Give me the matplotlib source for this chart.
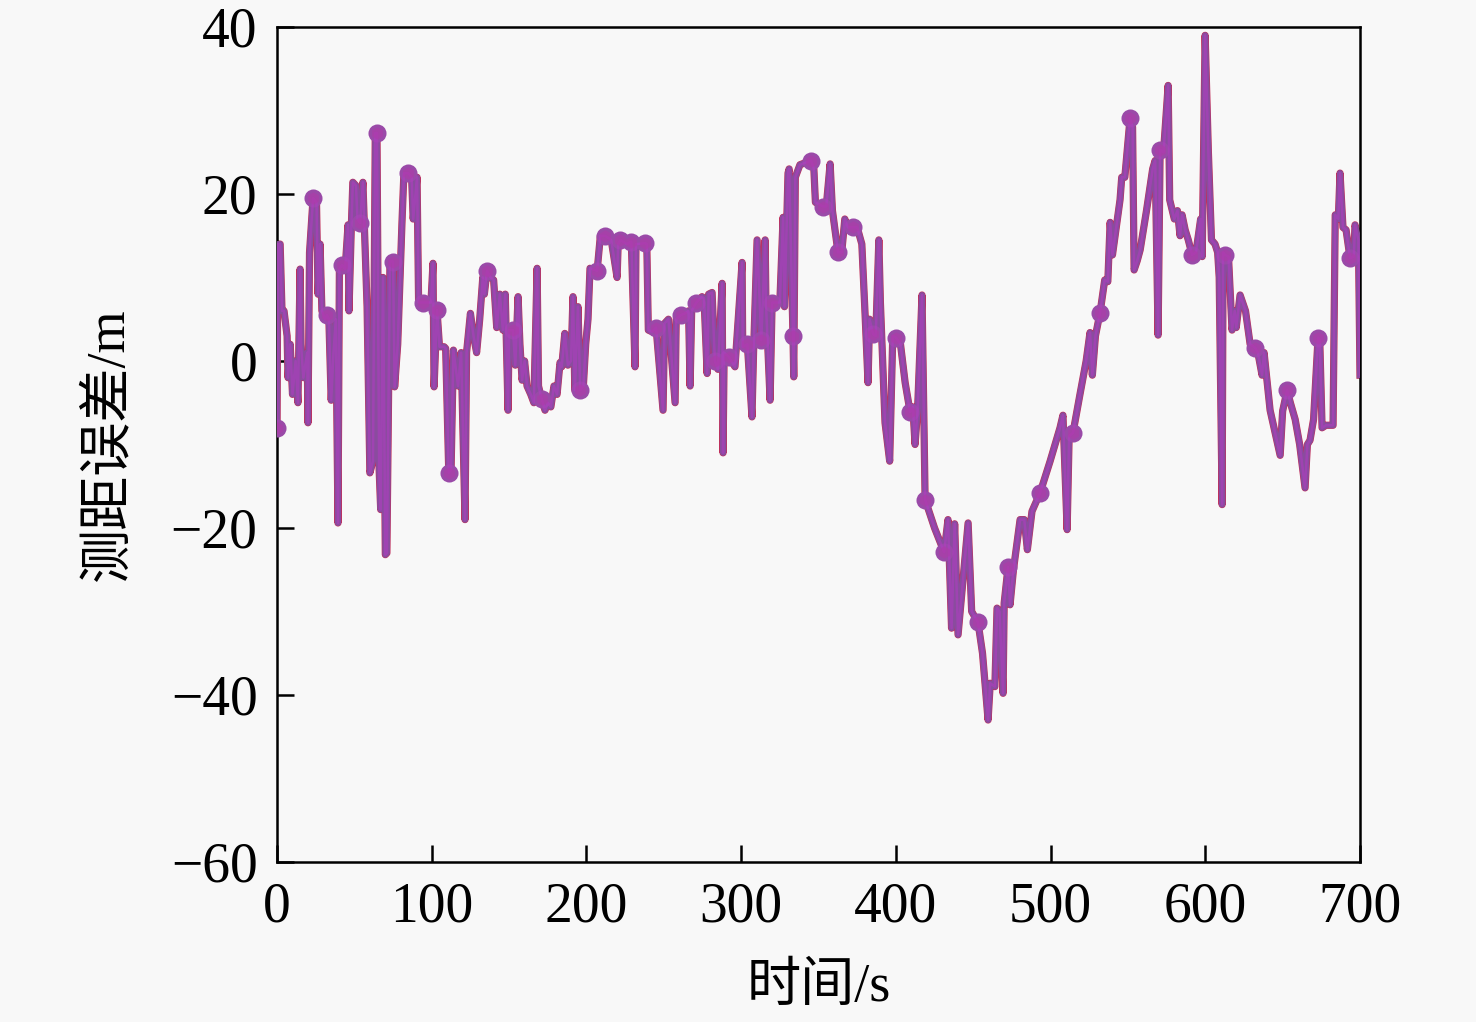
"""Ranging error over time (step-like trace with markers)."""
import numpy as np
import matplotlib.pyplot as plt

plt.rcParams['font.family'] = ['Liberation Serif', 'Noto Sans CJK SC']
plt.rcParams['axes.unicode_minus'] = True

# time (s) and ranging error (m)
t_s = [
    0, 0.5, 2, 3.2, 4.5, 6.5, 7.1, 8.5, 10, 12, 13.5, 14.9, 15.5, 17, 19.5, 20, 21, 23.3,
    25.5, 26.5, 27.8, 29, 31, 32.3, 33.5, 35, 36.5, 38, 39.4, 40.3, 42, 44, 45.9, 46.5,
    48, 49, 51, 52, 53.7, 55.5, 56.5, 58.2, 60, 62, 63.5, 64.6, 66, 67, 68.5, 70, 71, 73,
    75, 76, 78, 80.8, 82, 84.7, 87, 88, 90.5, 91.5, 94.4, 97, 99.5, 100.8, 101.5, 103.4,
    105, 108, 109, 111, 112.5, 114, 117, 119, 121.5, 122.5, 125, 127, 129, 131, 133, 134,
    135.7, 138, 140, 142, 144, 146, 147.5, 149.3, 150, 152.5, 154, 155.8, 157, 158.4, 160,
    161.6, 164, 166, 168.1, 169, 171, 173.2, 175, 177, 179, 181, 182.9, 184, 186, 188, 190,
    191.3, 192.5, 194.5, 196, 198, 199.5, 201, 202.3, 206.9, 209, 212, 216, 219.8, 220.5,
    222, 226, 229, 231.4, 232, 237.9, 239, 240, 242.4, 245, 249.5, 250.5, 253, 257.3, 258,
    261, 263.7, 266, 267, 268, 271, 274.7, 276, 278, 279, 281.2, 283, 285, 287.7, 288.3,
    289, 292, 296, 300.6, 301, 304, 307, 308, 310.3, 313, 315.5, 316, 318.7, 320, 325,
    327.1, 328, 330.3, 331, 333.5, 334, 335, 338, 345.2, 347, 348, 352.9, 355, 357.5, 359,
    362.6, 365, 367, 369, 372, 375, 378, 380, 382, 383, 385.3, 387, 389, 390, 393, 396,
    398, 400.1, 403, 406, 409.2, 411, 412.4, 414, 416.9, 418.9, 425, 431.2, 433.7, 436,
    438, 440.2, 443, 446.7, 449, 453.1, 456, 459.6, 461, 464, 465.4, 467, 469.3, 470,
    472.5, 473.8, 476, 480.3, 483, 485, 488, 493.2, 499.7, 506.1, 508, 510.7, 512, 514.5,
    519, 523, 525.5, 527, 529, 532, 535, 537, 538.5, 540, 544.9, 546, 548, 551.4, 553, 554,
    556, 557.9, 562, 566, 567.6, 569.5, 570.8, 573, 576, 577, 580, 582, 583.7, 585, 587,
    589, 591.5, 594, 597, 598, 599.9, 602, 604, 606.3, 608, 609, 610.9, 611.5, 612.8, 615,
    617.3, 619, 620, 622.5, 626, 629, 632.2, 634, 636.7, 638, 641.9, 645, 648.4, 650,
    652.9, 655, 658.1, 661, 664.5, 666, 667.7, 670, 672.9, 674, 675.5, 678, 682.6, 684,
    686, 687.1, 689, 691, 693.6, 696, 696.8, 699, 700,
]
err_m = [
    -8, 14, 14, 6, 6, 3, -2, 2, -4, 0, -5, 11, 2, -2, 1, -7.4, 13, 19.5,
    19, 8, 14, 6, 5, 5.5, 5, -4.7, 1, 5, -19.4, 11, 11.5, 11, 16.3, 6,
    16, 21.4, 21, 17, 16.5, 21.4, 16, 6.5, -13.4, -12, 27.3, 27.3, -13, -17.8, 10, -23.2, -23, 12,
    11.9, -3.1, 2, 16.8, 22.5, 22.5, 22, 17, 22, 7, 7, 7, 7, 11.7, -3.1, 6.1,
    1.7, 1.7, 1.5, -13.4, -13, 1.3, -3, 1, -19, 1, 5.7, 3, 1, 5, 10, 8,
    10.8, 10, 9.7, 4, 8, 3.7, 8, -5.9, 3.7, 3.7, -0.5, 7.7, 2, -2.3, 0,
    -3, -4, -5, 11.1, -3, -4.5, -5.9, -5, -5.5, -3, -4, -0.2, -0.7, 3.3, -0.5, 0,
    7.7, -3.5, 6.5, -3.5, -3, 2, 5, 11.1, 10.8, 15, 15, 14.5, 10, 14,
    14.5, 14, 14.3, -0.7, 14, 14.1, 14, 3.7, 3.5, 4, -5.9, 4.5, 5, -5, 5,
    5.5, 5.7, 6, -3, 6, 7, 7.7, 7.5, -1.5, 8, 8.2, 0, -1, 9.3, -11,
    1, 0.5, -0.7, 11.8, 1.7, 2, -6.7, 1, 14.5, 2.5, 14.5, 7, -4.7, 7, 7,
    17.2, 6.5, 22.5, 23, 3, -1.9, 22, 23.5, 24, 23, 19, 18.5, 18.5, 23.6, 18,
    13, 13, 17, 16, 16, 16, 14, 6, -2.6, 5, 3.2, 3, 14.5, 7, -7.4, -12,
    3, 2.8, 2, -2.6, -6.1, -5.5, -10, -6, 7.9, -16.6, -20, -22.9, -19, -32,
    -19.5, -32.8, -27, -19.4, -30, -31.3, -35, -43, -38.6, -39, -29.6, -30, -39.8, -29,
    -24.7, -29.2, -25, -19, -19, -22.6, -18, -15.8, -12, -8, -6.5, -20.2, -9, -8.6,
    -4, 0, 3.4, -1.7, 3, 5.8, 9.7, 9.5, 16.6, 12.7, 19.3, 22, 22, 29.1, 28, 10.9,
    12, 13.3, 18, 23, 24, 3.1, 25.3, 25, 33, 19.3, 17, 18, 15, 17.5, 15.7,
    14.5, 12.7, 13, 17, 12.5, 39, 25, 14.5, 14, 13, 10, -17.2, 13, 12.7, 12.5,
    3.7, 6, 4, 7.9, 6, 2, 1.6, 1, -1.7, 1, -5.9, -8.5, -11.3, -6,
    -3.5, -5, -7, -10, -15.2, -10, -9.5, -7, 2.8, 2.5, -8, -7.7, -7.7, 17.5,
    17, 22.5, 16, 15.7, 12.3, 12.5, 16.3, 14.5, -1.7,
]
marker_t = [
    0, 23.3, 32.3, 42, 53.7, 64.6, 75, 84.7, 94.4, 103.4, 111, 135.7, 152.5, 171, 196,
    206.9, 212, 222, 229, 237.9, 245, 261, 271, 283, 292, 304, 313, 320, 333.5, 345.2,
    352.9, 362.6, 372, 385.3, 400.1, 409.2, 418.9, 431.2, 453.1, 472.5, 493.2, 514.5,
    532, 551.4, 570.8, 591.5, 612.8, 632.2, 652.9, 672.9, 693.6,
]

t = np.array(t_s)
y = np.array(err_m)
mark_idx = [int(np.argmin(np.abs(t - m))) for m in marker_t]

BG = '#f8f8f8'
fig = plt.figure(figsize=(14.76, 10.22), dpi=100, facecolor=BG)
ax = fig.add_axes([0.1877, 0.1566, 0.7337, 0.817])
ax.set_facecolor(BG)

ax.plot(t, y, color='#c0305c', linewidth=5.2, zorder=2)
ax.plot(t, y, color='#8a4c9e', linewidth=4.4, zorder=3,
        marker='o', markevery=mark_idx, markersize=13, markeredgewidth=0,
        markerfacecolor='#9a4aa8')
ax.plot(t, y, color='#b23cc4', linewidth=1.8, alpha=0.55, zorder=4,
        marker='h', markevery=mark_idx, markersize=9, markeredgewidth=0,
        markerfacecolor='#b03aa8')

ax.set_xlim(0, 700)
ax.set_ylim(-60, 40)
ax.set_xticks(np.arange(0, 701, 100))
ax.set_yticks(np.arange(-60, 41, 20))
ax.tick_params(direction='in', length=12, width=1.8, labelsize=40)
ax.tick_params(axis='x', pad=14)
ax.tick_params(axis='y', pad=14)
for s in ax.spines.values():
    s.set_linewidth(1.8)

ax.set_xlabel('时间/s', fontsize=39, labelpad=21)
ax.set_ylabel('测距误差/m', fontsize=39, labelpad=26)

fig.savefig('out.png', dpi=100, facecolor=BG)
